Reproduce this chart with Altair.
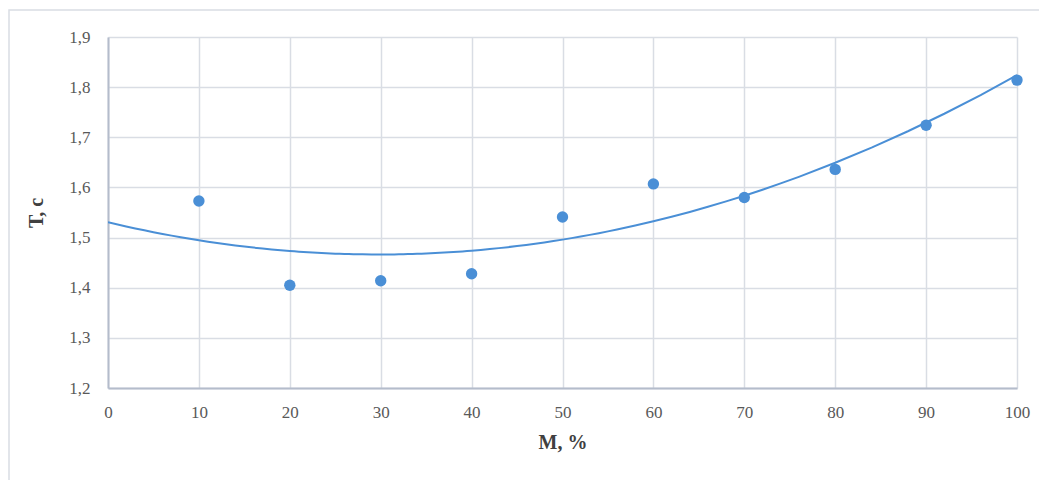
import altair as alt
import pandas as pd

m_values = [10, 20, 30, 40, 50, 60, 70, 80, 90, 100]
t_values = [1.573, 1.405, 1.414, 1.428, 1.541, 1.607, 1.580, 1.636, 1.724, 1.814]

df = pd.DataFrame({"M": m_values, "T": t_values})

W, H = 909, 351
blue = "#4a8fd6"

base = alt.Chart(df)

xenc = alt.X("M:Q", scale=alt.Scale(domain=[0, 100], nice=False),
             axis=alt.Axis(values=list(range(0, 101, 10)), title="М, %", labelFlush=False))
yenc = alt.Y("T:Q", scale=alt.Scale(domain=[1.2, 1.9], nice=False, zero=False),
             axis=alt.Axis(values=[1.2, 1.3, 1.4, 1.5, 1.6, 1.7, 1.8, 1.9], title="Т, с",
                           labelFlush=False,
                           labelExpr="replace(format(datum.value, '.1f'), '.', ',')"))

trend = base.transform_regression("M", "T", method="poly", order=2, extent=[0, 100]).mark_line(
    color=blue, strokeWidth=2, clip=True
).encode(x=xenc, y=yenc)

points = base.mark_circle(color=blue, size=130, opacity=1).encode(x=xenc, y=yenc)

border = alt.Chart(pd.DataFrame({"a": [0]})).mark_rect(
    filled=False, stroke="#d9dde4", strokeWidth=1.5, clip=False
).encode(x=alt.value(-99), x2=alt.value(W + 60), y=alt.value(-27), y2=alt.value(H + 160))

chart = alt.layer(border, trend, points).properties(
    width=W, height=H,
    autosize=alt.AutoSizeParams(type="none"),
    padding={"left": 100, "top": 29, "right": 22, "bottom": 100},
).configure_view(stroke=None).configure_axis(
    labelFont="Liberation Serif", labelFontSize=17, labelColor="#595959",
    titleFont="Liberation Serif", titleFontSize=20, titleFontWeight="bold", titleColor="#404040",
    gridColor="#d9dde4", gridWidth=1.5, domainColor="#b4bccb", domainWidth=2,
    ticks=False,
).configure_axisX(labelPadding=16, titlePadding=12, domain=True).configure_axisY(
    labelPadding=18, titlePadding=22
)

chart.save("out.html", embed_options={"renderer": "svg", "actions": False})
